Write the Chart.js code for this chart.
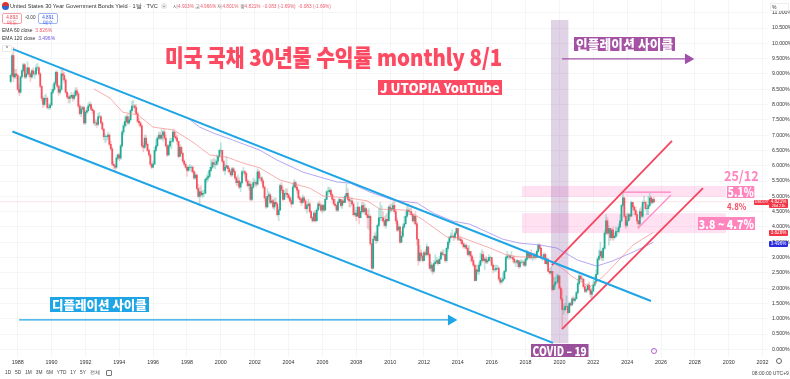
<!DOCTYPE html>
<html>
<head>
<meta charset="utf-8">
<style>
  html, body { margin: 0; padding: 0; background: #fff; }
  #wrap { position: relative; width: 790px; height: 379px; overflow: hidden; font-family: "Liberation Sans", sans-serif; color: #333; filter: blur(0.3px); }
  canvas { position: absolute; left: 0; top: 0; }
  .t { position: absolute; white-space: nowrap; line-height: 1; }
  .cjk { font-family: "Noto Sans CJK KR", sans-serif; font-weight: 900; transform-origin: left center; }
  .pill { position: absolute; border-radius: 2px; text-align: center; font-size: 4.6px; line-height: 5.2px; background: #fff; box-sizing: border-box; padding-top: 1px; }
  .tag { position: absolute; color: #fff; font-size: 4.6px; text-align: center; box-sizing: border-box; border-radius: 1px; line-height: 1; }
</style>
</head>
<body>
<div id="wrap">
  <canvas id="graphique" width="790" height="379"></canvas>

  <!-- header -->
  <div class="t" style="left:2px;top:2px;width:7px;height:8px;border-radius:4px;background:linear-gradient(#d33 0 50%,#36c 50%)"></div>
  <div class="t" style="left:10px;top:3.5px;font-size:5.6px;color:#333">United States 30 Year Government Bonds Yield · 1달 · TVC</div>
  <div class="t" style="left:161px;top:3px;width:6px;height:6px;border-radius:3px;background:#e8e8e8;font-size:6px;text-align:center">-</div>
  <div class="t" style="left:173px;top:4.5px;font-size:4.7px;color:#f06070"><span style="color:#555">시</span>4.903% <span style="color:#555">고</span>4.966% <span style="color:#555">저</span>4.801% <span style="color:#555">종</span>4.821% &nbsp;-0.083 (-1.69%) &nbsp;-0.083 (-1.69%)</div>
  <div class="pill" style="left:2px;top:13px;width:20px;height:11px;border:1px solid #f5a0a8;color:#e84050">4.893<br>매도</div>
  <div class="t" style="left:25px;top:16px;font-size:4.6px">-0.00</div>
  <div class="pill" style="left:38px;top:13px;width:20px;height:11px;border:1px solid #9db4f5;color:#2b50e0">4.891<br>매수</div>
  <div class="t" style="left:2px;top:28px;font-size:5px">EMA 60 close <span style="color:#f06070">&nbsp;3.826%</span></div>
  <div class="t" style="left:2px;top:36px;font-size:5px">EMA 120 close <span style="color:#6a5ce0">&nbsp;3.496%</span></div>
  <div class="t" style="left:2px;top:45px;width:10px;height:7px;border:1px solid #e8e8e8;border-radius:1px;box-sizing:border-box;background:#fff;font-size:5px;text-align:center">^</div>

  <!-- annotations -->
  <div class="t cjk" style="left:165px;top:45px;font-size:23px;color:#fb4a62;transform:scaleX(.885);text-shadow:0 0 1px #ffc0c8">미국 국채 30년물 수익률 monthly 8/1</div>
  <div class="t cjk" style="left:378px;top:80px;background:#fb4a62;color:#fff;font-size:13px;line-height:15px;padding:0 2px;height:15px">J UTOPIA YouTube</div>
  <div class="t cjk" style="left:574px;top:37px;background:#a552a5;color:#fff;font-size:12.6px;line-height:14px;padding:0 2px;height:14px;letter-spacing:.2px">인플레이션 사이클</div>
  <div class="t cjk" style="left:50px;top:297px;background:#1ea5e6;color:#fff;font-size:12.5px;line-height:15px;padding:0 2px;height:15px">디플레이션 사이클</div>
  <div class="t cjk" style="left:531px;top:344px;background:#9b509b;color:#fff;font-size:12.5px;line-height:13px;padding:0 2px;height:13px;transform:scaleX(.81)">COVID – 19</div>
  <div class="t cjk" style="left:724px;top:168px;color:#ff85bf;font-size:14px;font-weight:700;transform:scaleX(.9)">25/12</div>
  <div class="t cjk" style="left:727px;top:186px;background:#ff85bf;color:#fff;font-size:13px;line-height:12px;padding:0 1px;height:12px;transform:scaleX(.78)">5.1%</div>
  <div class="t cjk" style="left:727px;top:202px;color:#fb4a62;font-size:9.5px;font-weight:700;transform:scaleX(.82)">4.8%</div>
  <div class="t cjk" style="left:698px;top:217px;background:#ff85bf;color:#fff;font-size:12.5px;line-height:13px;padding:0 1px;height:13px;transform:scaleX(.85)">3.8 ~ 4.7%</div>

  <!-- price tags -->
  <div class="tag" style="left:754px;top:200px;width:15px;height:5px;background:#f23645;font-size:3.8px;padding-top:.5px">USDOY</div>
  <div class="tag" style="left:769px;top:199px;width:19px;height:9px;background:#f23645;padding-top:.5px">4.821%<br><span style="font-size:3.8px">26d 21h</span></div>
  <div class="tag" style="left:769px;top:230px;width:19px;height:6px;background:#f23645;padding-top:.5px">3.826%</div>
  <div class="tag" style="left:769px;top:241px;width:19px;height:6px;background:#2a2ae0;padding-top:.5px">3.496%</div>
  <div class="t" style="left:770px;top:3px;width:19px;height:8px;background:#fff;border:1px solid #eee;box-sizing:border-box;font-size:5px;padding:1px">%</div>

  <!-- footer -->
  <div class="t" style="left:651px;top:348px;width:6px;height:6px;border:1px solid #b060d0;border-radius:50%;box-sizing:border-box;color:#b060d0;font-size:4px;text-align:center">·</div>
  <div class="t" style="left:776px;top:358px;width:6px;height:6px;border:1px solid #666;border-radius:50%;box-sizing:border-box"></div>
  <div class="t" style="left:5px;top:371px;font-size:4.8px;word-spacing:2.6px;color:#444">1D 5D 1M 3M 6M YTD 1Y 5Y 전체</div>
  <div class="t" style="left:106px;top:370px;width:6px;height:6px;border:1px solid #777;border-radius:1px;box-sizing:border-box"></div>
  <div class="t" style="left:752px;top:371px;font-size:5px;color:#444">08:00:00 UTC+9</div>
</div>

<script src="https://cdn.jsdelivr.net/npm/chart.js@4/dist/chart.umd.js"></script>
<script>
    // MONTHLY YIELDS, AUG 1987 -> AUG 2025, ONE LINE PER YEAR
    const firstOpen = 8.75;
    const closes = [
        8.95,9.6,8.9,9.0,8.95,
        8.5,8.4,8.9,9.1,9.3,8.9,9.0,9.2,9.0,8.9,9.1,9.0,
        9.0,9.2,9.2,9.0,8.6,8.2,8.0,8.2,8.2,7.9,7.9,7.98,
        8.4,8.5,8.7,9.05,8.6,8.4,8.5,9.0,8.95,8.8,8.4,8.25,
        8.2,8.25,8.3,8.2,8.3,8.45,8.35,7.95,7.7,7.85,7.9,7.4,
        7.75,7.8,7.95,8.0,7.85,7.8,7.4,7.4,7.35,7.6,7.6,7.4,
        7.2,6.95,6.95,6.95,7.0,6.7,6.55,6.05,6.0,5.95,6.25,6.35,
        6.25,6.65,7.1,7.3,7.45,7.6,7.4,7.5,7.8,7.95,7.95,7.9,
        7.7,7.45,7.4,7.3,6.65,6.6,6.9,6.7,6.5,6.35,6.05,5.95,
        6.05,6.5,6.65,6.9,7.0,6.9,7.0,7.1,6.9,6.65,6.35,6.65,
        6.8,6.8,7.1,6.95,6.9,6.8,6.3,6.6,6.4,6.15,6.05,5.95,
        5.85,5.95,5.95,5.95,5.8,5.6,5.7,5.25,5.0,5.15,5.05,5.1,
        5.1,5.55,5.6,5.65,5.85,5.95,6.1,6.05,6.05,6.15,6.3,6.5,
        6.5,6.15,5.85,5.95,6.0,5.9,5.8,5.7,5.9,5.8,5.6,5.45,
        5.5,5.3,5.45,5.8,5.8,5.75,5.5,5.35,5.4,4.9,5.3,5.45,
        5.45,5.4,5.8,5.6,5.6,5.5,5.3,4.95,4.65,5.0,5.05,4.8,
        4.85,4.65,4.8,4.75,4.4,4.55,5.35,5.2,4.9,5.1,5.1,5.05,
        4.95,4.85,4.75,5.3,5.45,5.3,5.2,4.95,4.9,4.8,4.95,4.85,
        4.6,4.7,4.75,4.5,4.3,4.2,4.45,4.2,4.55,4.75,4.7,4.55,
        4.7,4.55,4.9,5.15,5.15,5.2,5.05,4.9,4.75,4.7,4.55,4.8,
        4.9,4.7,4.85,4.8,5.0,5.1,4.9,4.85,4.85,4.75,4.4,4.45,
        4.35,4.65,4.3,4.5,4.7,4.5,4.6,4.4,4.3,4.35,3.45,2.65,
        3.6,3.7,3.55,4.05,4.3,4.3,4.3,4.2,4.05,4.25,4.2,4.65,
        4.55,4.6,4.7,4.5,4.2,3.9,4.0,3.5,3.7,4.0,4.1,4.35,
        4.55,4.5,4.5,4.4,4.2,4.35,4.1,3.6,2.9,3.15,3.05,2.9,
        3.15,3.1,3.35,3.1,2.65,2.75,2.55,2.8,2.85,2.9,2.8,2.95,
        3.15,3.1,3.1,2.9,3.3,3.5,3.65,3.7,3.7,3.65,3.8,3.95,
        3.6,3.6,3.55,3.45,3.35,3.4,3.3,3.1,3.2,3.05,2.9,2.75,
        2.25,2.6,2.55,2.75,2.9,3.1,2.9,2.95,2.85,2.9,3.0,3.0,
        2.75,2.6,2.6,2.65,2.65,2.3,2.2,2.25,2.3,2.55,3.0,3.05,
        3.05,3.0,3.0,2.95,2.85,2.85,2.9,2.7,2.85,2.85,2.85,2.75,
        2.95,3.15,3.0,3.1,3.0,3.0,3.1,3.0,3.2,3.4,3.3,3.0,
        3.0,3.1,2.8,2.95,2.55,2.5,2.55,1.95,2.1,2.2,2.2,2.4,
        2.0,1.65,1.3,1.3,1.4,1.4,1.2,1.5,1.45,1.65,1.6,1.65,
        1.85,2.15,2.4,2.3,2.3,2.05,1.9,1.95,2.1,1.95,1.8,1.9,
        2.1,2.2,2.45,2.95,3.05,3.2,3.0,3.3,3.8,4.2,3.8,3.95,
        3.65,3.9,3.65,3.7,3.85,3.85,4.0,4.2,4.7,4.95,4.35,4.05,
        4.2,4.4,4.35,4.8,4.65,4.55,4.4,4.2,4.1,4.5,4.35,4.8,
        4.8,4.6,4.6,4.7,4.95,4.8,4.9,4.82
    ];
    const highs = [
        9.0,9.65,9.87,9.15,9.15,
        9.0,8.65,8.95,9.15,9.35,9.35,9.2,9.4,9.2,9.05,9.15,9.2,
        9.1,9.3,9.35,9.25,9.05,8.6,8.25,8.3,8.35,8.25,8.0,8.05,
        8.5,8.65,8.75,9.1,9.1,8.65,8.6,9.15,9.2,9.05,8.85,8.45,
        8.35,8.3,8.4,8.35,8.4,8.55,8.55,8.4,8.0,7.95,7.95,7.95,
        7.8,7.9,8.05,8.1,8.05,7.9,7.8,7.5,7.5,7.7,7.75,7.65,
        7.45,7.2,7.05,7.0,7.1,7.05,6.8,6.6,6.15,6.05,6.35,6.4,
        6.4,6.7,7.15,7.4,7.6,7.65,7.7,7.6,7.85,8.1,8.15,8.0,
        8.0,7.75,7.55,7.45,7.35,6.75,7.0,7.0,6.75,6.55,6.4,6.1,
        6.15,6.6,6.85,6.95,7.1,7.1,7.2,7.15,7.2,7.0,6.7,6.7,
        6.9,6.9,7.15,7.2,7.1,7.0,6.8,6.7,6.65,6.45,6.2,6.1,
        6.0,6.0,6.05,6.0,6.0,5.85,5.8,5.7,5.4,5.3,5.35,5.2,
        5.2,5.6,5.7,5.8,5.95,6.2,6.2,6.25,6.2,6.35,6.35,6.55,
        6.75,6.5,6.2,6.05,6.3,6.0,5.95,5.85,5.95,5.95,5.85,5.65,
        5.7,5.6,5.5,5.85,5.95,5.85,5.8,5.55,5.5,5.5,5.4,5.6,
        5.55,5.5,5.9,5.85,5.75,5.65,5.55,5.35,5.0,5.25,5.15,5.1,
        5.0,4.9,4.95,4.95,4.8,4.65,5.4,5.45,5.3,5.2,5.25,5.25,
        5.1,5.0,4.95,5.4,5.55,5.5,5.35,5.25,5.0,4.95,5.05,5.0,
        4.9,4.75,4.9,4.8,4.55,4.35,4.5,4.55,4.6,4.8,4.85,4.75,
        4.75,4.75,4.95,5.2,5.3,5.3,5.25,5.1,4.95,4.9,4.75,4.85,
        4.95,4.9,4.9,4.95,5.05,5.4,5.25,5.0,4.95,4.95,4.8,4.65,
        4.55,4.8,4.65,4.65,4.8,4.8,4.75,4.65,4.55,4.6,4.4,3.45,
        3.7,3.8,3.85,4.1,4.6,4.8,4.7,4.5,4.35,4.4,4.45,4.7,
        4.75,4.75,4.8,4.85,4.55,4.3,4.1,4.0,3.85,4.1,4.35,4.5,
        4.75,4.75,4.6,4.65,4.4,4.4,4.5,4.15,3.6,3.4,3.25,3.15,
        3.2,3.25,3.45,3.35,3.15,2.85,2.8,2.9,3.1,3.0,2.95,3.05,
        3.2,3.25,3.25,3.1,3.35,3.55,3.7,3.8,3.9,3.75,3.85,3.95,
        3.95,3.7,3.7,3.6,3.5,3.45,3.45,3.35,3.4,3.2,3.1,3.0,
        2.8,2.75,2.75,2.85,3.15,3.25,3.2,3.0,3.05,3.0,3.1,3.05,
        3.0,2.8,2.75,2.75,2.75,2.7,2.35,2.35,2.5,2.6,3.05,3.2,
        3.1,3.1,3.2,3.05,3.05,2.9,2.95,2.9,2.9,2.95,2.9,2.9,
        3.0,3.25,3.2,3.15,3.25,3.1,3.15,3.15,3.25,3.45,3.45,3.35,
        3.1,3.15,3.15,3.0,2.95,2.65,2.7,2.55,2.35,2.35,2.45,2.45,
        2.4,2.05,1.95,1.45,1.5,1.75,1.45,1.55,1.55,1.7,1.75,1.7,
        1.9,2.3,2.5,2.4,2.4,2.3,2.1,2.0,2.15,2.2,2.05,2.0,
        2.25,2.4,2.6,3.0,3.25,3.5,3.25,3.35,3.9,4.4,4.3,4.05,
        3.95,3.95,4.0,3.8,4.0,3.95,4.1,4.4,4.75,5.15,4.95,4.4,
        4.45,4.45,4.45,4.85,4.8,4.7,4.65,4.5,4.2,4.6,4.65,4.85,
        5.0,4.85,4.75,5.0,5.1,5.0,4.95,4.97
    ];
    const lows = [
        8.7,8.9,8.75,8.85,8.85,
        8.45,8.3,8.35,8.85,9.05,8.85,8.85,8.95,8.9,8.75,8.85,8.95,
        8.85,8.95,9.1,8.95,8.55,8.1,7.9,7.95,8.1,7.85,7.85,7.85,
        7.95,8.35,8.45,8.65,8.55,8.3,8.35,8.45,8.8,8.7,8.35,8.2,
        8.05,8.05,8.2,8.1,8.15,8.25,8.3,7.9,7.65,7.6,7.75,7.35,
        7.35,7.7,7.75,7.9,7.8,7.7,7.35,7.3,7.25,7.3,7.55,7.35,
        7.15,6.85,6.75,6.8,6.85,6.65,6.5,6.0,5.9,5.8,5.9,6.2,
        6.15,6.2,6.6,7.0,7.25,7.3,7.35,7.35,7.45,7.75,7.85,7.75,
        7.65,7.4,7.3,7.25,6.6,6.45,6.55,6.65,6.45,6.3,6.0,5.9,
        5.95,6.05,6.45,6.6,6.85,6.85,6.85,6.8,6.85,6.6,6.3,6.35,
        6.6,6.55,6.75,6.9,6.85,6.7,6.25,6.3,6.35,6.1,6.0,5.9,
        5.65,5.8,5.85,5.8,5.75,5.55,5.55,5.2,4.95,4.7,5.0,4.95,
        5.0,5.1,5.45,5.5,5.6,5.8,5.9,5.95,5.9,6.0,6.05,6.25,
        6.4,6.1,5.8,5.7,5.9,5.8,5.75,5.65,5.65,5.7,5.55,5.35,
        5.35,5.25,5.15,5.4,5.7,5.6,5.45,5.3,5.2,4.85,4.85,5.25,
        5.35,5.3,5.35,5.55,5.5,5.4,5.25,4.85,4.6,4.65,4.9,4.75,
        4.75,4.6,4.55,4.7,4.35,4.2,4.55,5.1,4.85,4.9,5.0,4.95,
        4.9,4.8,4.65,4.75,5.3,5.25,5.1,4.9,4.8,4.7,4.75,4.8,
        4.55,4.45,4.65,4.45,4.25,4.15,4.2,4.15,4.2,4.55,4.6,4.5,
        4.45,4.5,4.55,4.9,5.05,5.1,5.0,4.85,4.7,4.65,4.5,4.5,
        4.8,4.65,4.6,4.75,4.8,4.95,4.85,4.65,4.65,4.7,4.35,4.35,
        4.2,4.35,4.1,4.3,4.45,4.45,4.4,4.35,3.95,3.9,3.4,2.55,
        2.65,3.55,3.45,3.5,4.0,4.2,4.2,4.15,4.0,3.95,4.15,4.2,
        4.45,4.5,4.55,4.45,4.1,3.85,3.85,3.45,3.5,3.65,3.95,4.1,
        4.3,4.4,4.4,4.35,4.15,4.1,4.05,3.4,2.75,2.85,2.95,2.85,
        2.9,3.05,3.05,3.05,2.6,2.55,2.45,2.5,2.75,2.8,2.75,2.8,
        2.95,3.05,3.05,2.85,2.85,3.2,3.4,3.6,3.65,3.55,3.6,3.75,
        3.55,3.55,3.45,3.4,3.3,3.3,3.25,3.05,3.05,2.85,2.85,2.7,
        2.22,2.25,2.45,2.45,2.7,2.85,2.85,2.6,2.8,2.8,2.9,2.85,
        2.7,2.5,2.55,2.55,2.6,2.25,2.12,2.15,2.2,2.3,2.55,2.95,
        2.95,2.95,2.95,2.85,2.8,2.7,2.8,2.65,2.65,2.8,2.75,2.7,
        2.7,2.9,2.95,2.95,2.95,2.9,2.95,2.95,3.0,3.15,3.25,2.95,
        2.9,2.95,2.8,2.75,2.55,2.45,2.45,1.9,1.95,2.0,2.15,2.15,
        1.95,1.6,0.7,1.15,1.25,1.3,1.15,1.2,1.4,1.45,1.5,1.55,
        1.65,1.8,2.1,2.25,2.2,2.0,1.85,1.85,1.9,1.9,1.7,1.65,
        1.95,2.05,2.15,2.45,2.9,2.95,2.9,2.9,3.25,3.75,3.75,3.4,
        3.55,3.6,3.55,3.6,3.65,3.7,3.8,3.95,4.15,4.65,4.3,3.95,
        4.0,4.2,4.25,4.35,4.55,4.4,4.35,4.1,3.95,4.05,4.3,4.3,
        4.75,4.55,4.4,4.4,4.65,4.75,4.75,4.8
    ];

    // EMA LINES [year, yield]
    const ema60 = [
        [1992.5,8.51],[1993.45,8.21],[1994.2,7.75],[1995.1,7.66],[1996.0,7.26],[1997.2,7.17],[1998.35,6.77],[1999.35,6.35],
        [2000.35,6.28],[2001.3,6.09],[2002.3,5.93],[2003.5,5.53],[2005.25,5.27],[2006.05,5.01],[2007.65,4.94],[2008.65,4.85],
        [2009.4,4.58],[2011.0,4.55],[2011.95,4.23],[2013.35,3.67],[2014.3,3.64],[2015.9,3.31],[2016.9,3.08],[2017.65,3.02],
        [2019.05,3.02],[2020.05,2.69],[2020.8,2.36],[2021.8,2.04],[2022.55,2.36],[2023.4,2.85],[2024.35,3.41],[2025.55,3.826]
    ];
    const ema120 = [
        [1998.05,7.56],[1998.75,7.26],[1999.55,7.07],[2000.7,6.84],[2002.3,6.51],[2003.3,6.19],[2004.85,5.79],[2006.85,5.47],
        [2007.65,5.43],[2008.8,5.14],[2010.15,4.88],[2011.6,4.78],[2012.55,4.45],[2013.7,4.19],[2014.7,4.09],[2016.65,3.6],
        [2017.65,3.47],[2018.85,3.41],[2019.85,3.31],[2021.05,2.92],[2022.2,2.72],[2023.15,2.89],[2024.35,3.18],[2025.55,3.496]
    ];

    // TREND LINES DRAWN ON THE CHART
    const channelBlueTop = [[1987.72,9.81],[2025.41,1.58]];
    const channelBlueBottom = [[1987.69,7.12],[2019.62,0.21]];
    const arrowDeflation = [[1988.08,0.96],[2013.6,0.96]];
    const arrowInflation = [[2020.15,9.49],[2027.6,9.49]];
    const channelRedTop = [[2019.56,2.75],[2026.65,6.81]];
    const channelRedBottom = [[2020.15,0.66],[2028.48,5.27]];
    const triangleTop = [[2023.75,5.14],[2026.58,5.14]];
    const triangleBottom = [[2024.64,3.96],[2026.58,5.04]];
    const lastPriceLine = [[1986,4.821],[2033,4.821]];

    // ZONES [x1, x2, y1, y2]
    const covidZone = [2019.5,2020.53,0.2,10.76];
    const zone51 = [2017.79,2029.84,4.98,5.34];
    const zone38 = [2017.79,2029.84,3.8,4.45];

    const yearTicks = [1988,1990,1992,1994,1996,1998,2000,2002,2004,2006,2008,2010,2012,2014,2016,2018,2020,2022,2024,2026,2028,2030,2032];
    const yieldTicks = [0,0.5,1,1.5,2,2.5,3,3.5,4,4.5,5,5.5,6,6.5,7,7.5,8,8.5,9,9.5,10,10.5,11];

    const monthX = i => 1987 + (7 + i) / 12;
    const toPoints = arr => arr.map(p => ({ x: p[0], y: p[1] }));

    const UP = '#22ab94';
    const DOWN = '#f7525f';
    const opens = closes.map((c, i) => i === 0 ? firstOpen : closes[i - 1]);
    const isUp = closes.map((c, i) => c >= opens[i]);

    function lineSet(points, color, width, arrow) {
        return {
            type: 'line',
            data: toPoints(points),
            borderColor: color,
            backgroundColor: color,
            borderWidth: width,
            tension: 0,
            order: 0,
            pointStyle: 'triangle',
            pointRotation: 90,
            pointRadius: arrow ? [0, 5] : 0,
        };
    }

    // FONDS ROSES ET VIOLET
    const zonesPlugin = {
        id: 'zones',
        beforeDatasetsDraw(chart) {
            const { ctx, scales: { x, y } } = chart;
            const fillZone = (z, color) => {
                ctx.fillStyle = color;
                ctx.fillRect(x.getPixelForValue(z[0]), y.getPixelForValue(z[3]),
                    x.getPixelForValue(z[1]) - x.getPixelForValue(z[0]), y.getPixelForValue(z[2]) - y.getPixelForValue(z[3]));
            };
            fillZone(zone51, 'rgba(255,130,200,0.24)');
            fillZone(zone38, 'rgba(255,130,200,0.24)');
            fillZone(covidZone, 'rgba(130,70,150,0.24)');
        }
    };

    // axes must not push the plot area in, its edges stay on the canvas edges
    const fitAxis = (s, size) => {
        if (s.isHorizontal()) {
            s.height = size;
        } else {
            s.width = size;
        }
        s.paddingLeft = s.paddingRight = s.paddingTop = s.paddingBottom = 0;
    };

    new Chart(document.getElementById('graphique'), {
        type: 'bar',
        plugins: [zonesPlugin],
        data: {
            datasets: [
                lineSet(lastPriceLine, 'rgba(242,54,69,0.14)', 1),
                lineSet(channelBlueTop, '#1ea5e6', 2),
                lineSet(channelBlueBottom, '#1ea5e6', 2),
                lineSet(arrowDeflation, '#1ea5e6', 1.3, true),
                lineSet(arrowInflation, '#a050a8', 1.3, true),
                lineSet(channelRedTop, '#f5455f', 1.8),
                lineSet(channelRedBottom, '#f5455f', 1.8),
                lineSet(triangleTop, '#ff80c0', 1.3),
                lineSet(triangleBottom, '#ff80c0', 1.3),
                lineSet(ema60, 'rgba(245,130,130,0.65)', 1),
                lineSet(ema120, 'rgba(130,110,235,0.6)', 1),
                {
                    // wicks
                    data: closes.map((c, i) => ({ x: monthX(i), y: [lows[i], highs[i]] })),
                    backgroundColor: isUp.map(u => u ? 'rgba(34,171,148,0.3)' : 'rgba(247,82,95,0.3)'),
                    barThickness: 1,
                    order: 3,
                },
                {
                    // bodies
                    data: closes.map((c, i) => ({ x: monthX(i), y: [opens[i], c] })),
                    backgroundColor: isUp.map(u => u ? UP : DOWN),
                    barThickness: 1.1,
                    order: 2,
                },
            ],
        },
        options: {
            responsive: false,
            animation: false,
            devicePixelRatio: 1,
            layout: { padding: 0, autoPadding: false },
            plugins: { legend: { display: false }, tooltip: { enabled: false } },
            datasets: { bar: { grouped: false } },
            scales: {
                x: {
                    type: 'linear',
                    offset: false,
                    min: 1986.955,
                    max: 2032.32,
                    afterBuildTicks: s => { s.ticks = yearTicks.map(v => ({ value: v })); },
                    afterFit: s => fitAxis(s, 22),
                    grid: { color: '#f4f5f7', lineWidth: 1, drawTicks: false, offset: false },
                    border: { display: false },
                    ticks: {
                        autoSkip: false, maxRotation: 0, padding: 2,
                        color: '#333', font: { size: 5.4, family: 'Liberation Sans' },
                        callback: v => String(v),
                    },
                },
                y: {
                    position: 'right',
                    min: -0.25,
                    max: 11.415,
                    afterBuildTicks: s => { s.ticks = yieldTicks.map(v => ({ value: v })); },
                    afterFit: s => fitAxis(s, 22),
                    grid: { color: '#f4f5f7', lineWidth: 1, drawTicks: false },
                    border: { display: false },
                    ticks: {
                        autoSkip: false, padding: 4,
                        color: '#333', font: { size: 5.2, family: 'Liberation Sans' },
                        callback: v => v.toFixed(3) + '%',
                    },
                },
            },
        },
    });
</script>
</body>
</html>
